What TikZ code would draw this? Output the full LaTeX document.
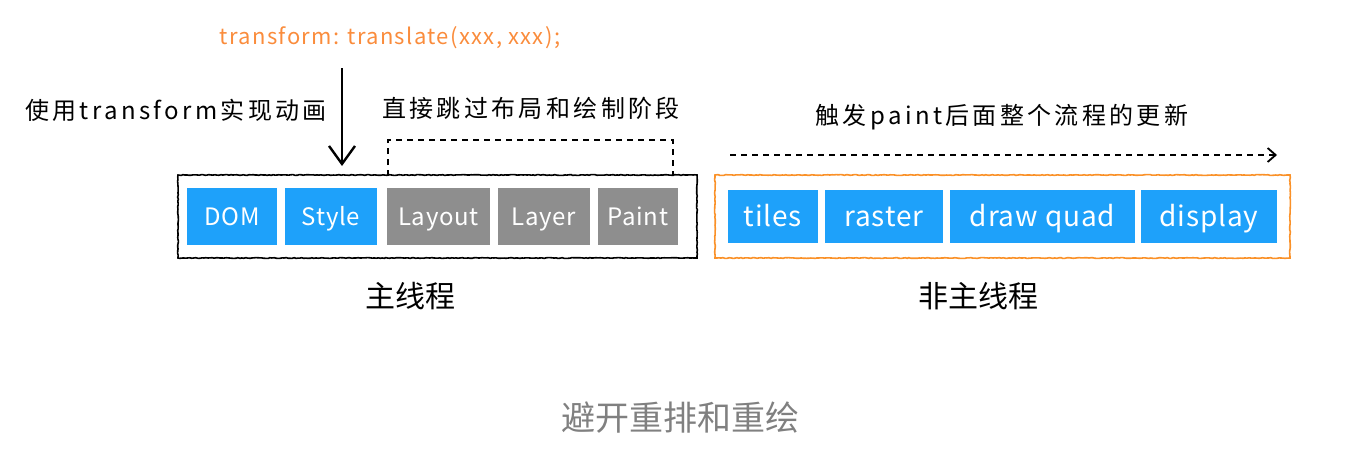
\documentclass[tikz,border=0pt]{standalone}
\usepackage{fontspec}
\setmainfont{Noto Sans CJK SC}
\usetikzlibrary{arrows.meta,decorations.pathmorphing}
\definecolor{stageblue}{RGB}{30,161,250}
\definecolor{stagegray}{RGB}{142,142,142}
\definecolor{codeorange}{RGB}{250,140,60}
\definecolor{threadorange}{RGB}{250,145,40}
\definecolor{captiongray}{RGB}{128,128,128}

\begin{document}
\begin{tikzpicture}[
  x=1pt, y=-1pt,
  stage/.style={rectangle, fill=stageblue, text=white, minimum height=57pt, inner sep=0pt, text height=17.5pt, text depth=0pt, font=\fontsize{24}{28}\selectfont\addfontfeature{LetterSpace=3}},
  skipped/.style={stage, fill=stagegray},
  gpustage/.style={stage, minimum height=53pt, text height=20.5pt, font=\fontsize{28}{32}\selectfont\addfontfeature{LetterSpace=3}},
  thread/.style={rectangle, draw, line width=1.6pt, minimum height=83pt, inner sep=0pt, decorate, decoration={random steps, segment length=2pt, amplitude=0.4pt}},
  note/.style={font=\fontsize{24}{28}\selectfont\addfontfeature{LetterSpace=14}},
  label/.style={font=\fontsize{30}{36}\selectfont},
  arrow/.style={line width=2.4pt, -{Straight Barb[length=18pt, width=26pt, line width=2.4pt]}},
  skip/.style={line width=1.8pt, dash pattern=on 6pt off 5pt}
]
\useasboundingbox (0,0) rectangle (1366,464);

% Main thread
\node[thread] (main) at (437.5,216.5) [minimum width=519pt] {};
\node[stage] (dom) at (232,216.5) [minimum width=90pt] {DOM};
\node[stage] (style) at (331,216.5) [minimum width=92pt] {Style};
\node[skipped] (layout) at (438.5,216.5) [minimum width=103pt] {Layout};
\node[skipped] (layer) at (544,216.5) [minimum width=92pt] {Layer};
\node[skipped] (paint) at (638,216.5) [minimum width=80pt] {Paint};
\node[label] (mainlbl) at (410,296) {主线程};

% Compositor thread
\node[thread, draw=threadorange] (comp) at (1002.5,216.5) [minimum width=575pt] {};
\node[gpustage] (tiles) at (773,216.5) [minimum width=90pt] {tiles};
\node[gpustage] (raster) at (884,216.5) [minimum width=118pt] {raster};
\node[gpustage] (quad) at (1042.5,216.5) [minimum width=185pt] {draw quad};
\node[gpustage] (display) at (1209,216.5) [minimum width=136pt] {display};
\node[label] (complbl) at (978,296) {非主线程};

% Notes
\node[font=\fontsize{22}{26}\selectfont\addfontfeature{LetterSpace=6}, text=codeorange] (code) at (390,38) {transform: translate(xxx, xxx);};
\node[note] (usenote) at (176,110) {使用transform实现动画};
\node[note] (skipnote) at (531,108) {直接跳过布局和绘制阶段};
\node[note] (flownote) at (1002,117) {触发paint后面整个流程的更新};

% Arrows
\coordinate (push) at (342,68);
\coordinate (pushend) at (342,166);
\draw[arrow] (push) -- (pushend);
\coordinate (skipstart) at (388,176);
\coordinate (skipend) at (673,176);
\draw[skip] (skipstart) -- ++(0,-36) -| (skipend);
\coordinate (flowstart) at (730,155);
\coordinate (flowend) at (1277,155);
\draw[skip, -{Straight Barb[length=8pt, width=14pt]}] (flowstart) -- (flowend);

% Caption
\node[font=\fontsize{34}{40}\selectfont, text=captiongray] (caption) at (680,418) {避开重排和重绘};

\end{tikzpicture}
\end{document}
